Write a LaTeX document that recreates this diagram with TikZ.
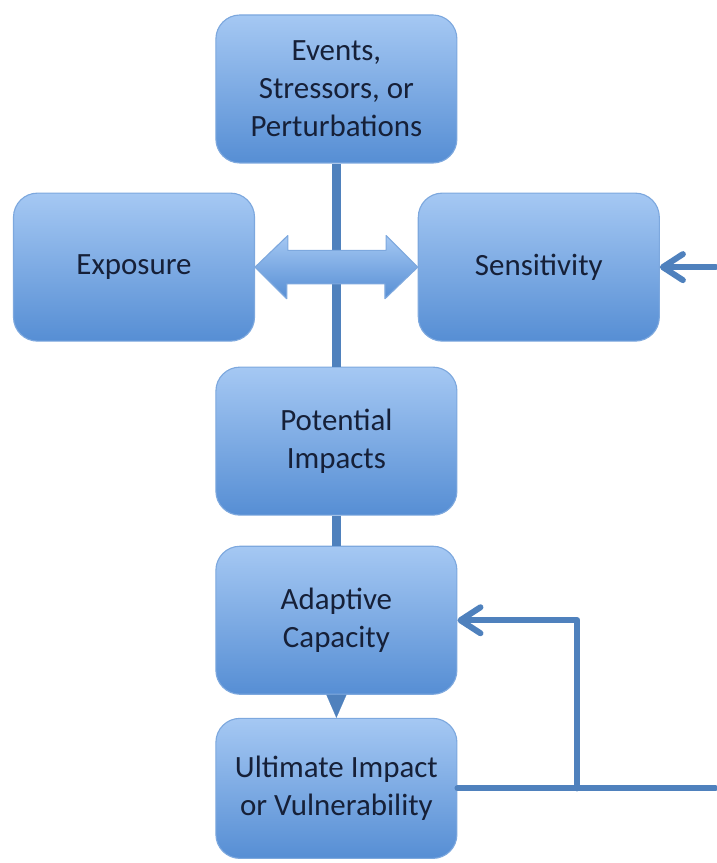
\documentclass[tikz,border=0pt]{standalone}
\usepackage{fontspec}
\setmainfont{Carlito}
\usetikzlibrary{positioning, arrows.meta}
\definecolor{boxtop}{RGB}{165,200,243}
\definecolor{boxbot}{RGB}{86,142,212}
\definecolor{boxline}{RGB}{125,168,222}
\definecolor{linkblue}{RGB}{79,129,189}
\definecolor{textnavy}{RGB}{22,32,56}

\begin{document}
\begin{tikzpicture}[node distance=0.7cm,
  box/.style={draw=boxline, line width=0.8pt, rounded corners=0.6cm,
    top color=boxtop, bottom color=boxbot, minimum width=6.025cm,
    minimum height=3.7cm, align=center, text=textnavy,
    font=\fontsize{22}{27}\selectfont},
  link/.style={draw=linkblue, line width=0.225cm},
  feedback/.style={draw=linkblue, line width=0.15cm, line cap=round, line join=round}]
  \useasboundingbox (0,0) rectangle (17.9,-21.575);
  \node[box] (events) at (8.41,-2.225) {Events,\\Stressors, or\\Perturbations};
  \node[box, below=0.725cm of events, xshift=-5.06cm] (exposure) {Exposure};
  \node[box, below=0.725cm of events, xshift=5.06cm] (sensitivity) {Sensitivity};
  \node[box, below=5.075cm of events] (potential) {Potential\\Impacts};
  \node[box, below=0.75cm of potential] (adaptive) {Adaptive\\Capacity};
  \node[box, below=0.575cm of adaptive, minimum height=3.5cm] (ultimate) {Ultimate Impact\\or Vulnerability};

  % ends of the trunk line at the shaft of the double arrow
  \coordinate (shafttop) at ([yshift=0.3cm]events.south |- exposure.east);
  \coordinate (shaftbot) at ([yshift=-0.3cm]events.south |- exposure.east);

  \draw[link] (events.south) -- (shafttop);
  \draw[link] (shaftbot) -- (potential.north);
  \draw[link] (potential.south) -- (adaptive.north);
  \draw[-{Triangle[width=0.5cm, length=0.575cm]}, draw=linkblue, fill=linkblue,
    line width=0.1pt] (adaptive.south) -- (ultimate.north);

  % exposure <-> sensitivity
  \path[draw=boxline, line width=0.8pt, line join=round, top color=boxtop, bottom color=boxbot]
    (exposure.east) -- ++(0.82,0.79) -- ++(0,-0.37) -- ++(2.455,0) -- ++(0,0.37)
    -- (sensitivity.west) -- ++(-0.82,-0.79) -- ++(0,0.37) -- ++(-2.455,0)
    -- ++(0,-0.37) -- cycle;

  % feedback loops
  \coordinate (sensin) at ([xshift=1.4cm]sensitivity.east);
  \coordinate (ultout) at ([xshift=6.45cm]ultimate.east);
  \coordinate (branch) at ([xshift=3cm]ultimate.east);
  \draw[feedback] (ultimate.east) -- (ultout);
  \draw[feedback, -{Straight Barb[length=0.5cm, width=0.65cm, round]}] (branch) |- (adaptive.east);
  \draw[feedback, -{Straight Barb[length=0.5cm, width=0.65cm, round]}] (sensin) -- (sensitivity.east);
\end{tikzpicture}
\end{document}
